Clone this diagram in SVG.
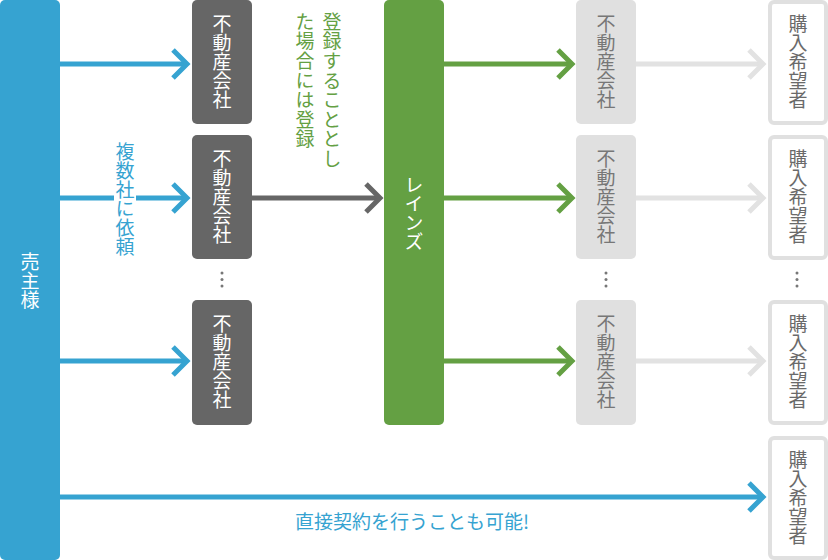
<svg xmlns="http://www.w3.org/2000/svg" width="828" height="560" viewBox="0 0 828 560">
<style>
text{font-family:"Noto Sans CJK JP","Noto Sans",sans-serif;font-size:19px}
.v{writing-mode:vertical-rl;text-anchor:middle;letter-spacing:0px}
.vs{writing-mode:vertical-rl;text-anchor:start;letter-spacing:0.6px}
.ln{fill:none;stroke-width:5}
.blue{stroke:#36a3d1}
.dark{stroke:#666}
.green{stroke:#64a043}
.light{stroke:#e2e2e2}
.dot{fill:#777}
</style>
<defs>
<marker id="mb" markerUnits="userSpaceOnUse" markerWidth="30" markerHeight="40" viewBox="-20 -20 30 40" refX="0" refY="0" orient="auto" overflow="visible"><path d="M-14,-14 L0,0 L-14,14" fill="none" stroke="#36a3d1" stroke-width="5"/></marker>
<marker id="md" markerUnits="userSpaceOnUse" markerWidth="30" markerHeight="40" viewBox="-20 -20 30 40" refX="0" refY="0" orient="auto" overflow="visible"><path d="M-14,-14 L0,0 L-14,14" fill="none" stroke="#666" stroke-width="5"/></marker>
<marker id="mg" markerUnits="userSpaceOnUse" markerWidth="30" markerHeight="40" viewBox="-20 -20 30 40" refX="0" refY="0" orient="auto" overflow="visible"><path d="M-14,-14 L0,0 L-14,14" fill="none" stroke="#64a043" stroke-width="5"/></marker>
<marker id="ml" markerUnits="userSpaceOnUse" markerWidth="30" markerHeight="40" viewBox="-20 -20 30 40" refX="0" refY="0" orient="auto" overflow="visible"><path d="M-14,-14 L0,0 L-14,14" fill="none" stroke="#e2e2e2" stroke-width="5"/></marker>
</defs>
<rect width="828" height="560" fill="#fff"/>

<g id="connectors">
<line class="ln blue" x1="60" y1="64" x2="187" y2="64" marker-end="url(#mb)"/>
<line class="ln blue" x1="60" y1="198" x2="187" y2="198" marker-end="url(#mb)"/>
<line class="ln blue" x1="60" y1="361" x2="187" y2="361" marker-end="url(#mb)"/>
<line class="ln dark" x1="252" y1="198" x2="380" y2="198" marker-end="url(#md)"/>
<line class="ln green" x1="444" y1="64" x2="572" y2="64" marker-end="url(#mg)"/>
<line class="ln green" x1="444" y1="198" x2="572" y2="198" marker-end="url(#mg)"/>
<line class="ln green" x1="444" y1="361" x2="572" y2="361" marker-end="url(#mg)"/>
<line class="ln light" x1="636" y1="64" x2="763" y2="64" marker-end="url(#ml)"/>
<line class="ln light" x1="636" y1="198" x2="763" y2="198" marker-end="url(#ml)"/>
<line class="ln light" x1="636" y1="361" x2="763" y2="361" marker-end="url(#ml)"/>
<line class="ln blue" x1="60" y1="497" x2="763" y2="497" marker-end="url(#mb)"/>
</g>

<g id="label-multi">
<rect x="114" y="137" width="22" height="124" fill="#fff"/>
<text class="v" x="125" y="199" fill="#36a3d1">複数社に依頼</text>
</g>
<g id="label-register">
<text class="vs" x="332" y="12" fill="#64a043">登録することとし</text>
<text class="vs" x="305" y="12" fill="#64a043">た場合には登録</text>
</g>
<g id="label-direct">
<text x="412" y="529" text-anchor="middle" fill="#36a3d1">直接契約を行うことも可能!</text>
</g>

<g id="seller">
<rect x="0" y="0" width="60" height="560" rx="5" fill="#36a3d1"/>
<text class="v" x="30" y="281" fill="#fff">売主様</text>
</g>

<g id="agent1"><rect x="192" y="0" width="60" height="124" rx="5" fill="#666"/><text class="v" x="222" y="62" fill="#fff">不動産会社</text></g>
<g id="agent2"><rect x="192" y="135" width="60" height="124" rx="5" fill="#666"/><text class="v" x="222" y="197" fill="#fff">不動産会社</text></g>
<g id="agent-dots"><circle class="dot" cx="222" cy="273" r="1.5"/><circle class="dot" cx="222" cy="279.5" r="1.5"/><circle class="dot" cx="222" cy="286" r="1.5"/></g>
<g id="agent3"><rect x="192" y="300" width="60" height="125" rx="5" fill="#666"/><text class="v" x="222" y="362" fill="#fff">不動産会社</text></g>

<g id="reins"><rect x="384" y="0" width="60" height="425" rx="5" fill="#64a043"/><text class="v" x="414" y="213" fill="#fff">レインズ</text></g>

<g id="ragent1"><rect x="576" y="0" width="60" height="124" rx="5" fill="#e0e0e0"/><text class="v" x="606" y="62" fill="#777">不動産会社</text></g>
<g id="ragent2"><rect x="576" y="135" width="60" height="124" rx="5" fill="#e0e0e0"/><text class="v" x="606" y="197" fill="#777">不動産会社</text></g>
<g id="ragent-dots"><circle class="dot" cx="606" cy="273" r="1.5"/><circle class="dot" cx="606" cy="279.5" r="1.5"/><circle class="dot" cx="606" cy="286" r="1.5"/></g>
<g id="ragent3"><rect x="576" y="300" width="60" height="125" rx="5" fill="#e0e0e0"/><text class="v" x="606" y="362" fill="#777">不動産会社</text></g>

<g id="buyer1"><rect x="770" y="2" width="56" height="121" rx="4" fill="#fff" stroke="#e0e0e0" stroke-width="4"/><text class="v" x="798" y="62" fill="#6a6a6a">購入希望者</text></g>
<g id="buyer2"><rect x="770" y="137" width="56" height="121" rx="4" fill="#fff" stroke="#e0e0e0" stroke-width="4"/><text class="v" x="798" y="197" fill="#6a6a6a">購入希望者</text></g>
<g id="buyer-dots"><circle class="dot" cx="797" cy="273" r="1.5"/><circle class="dot" cx="797" cy="279.5" r="1.5"/><circle class="dot" cx="797" cy="286" r="1.5"/></g>
<g id="buyer3"><rect x="770" y="302" width="56" height="121" rx="4" fill="#fff" stroke="#e0e0e0" stroke-width="4"/><text class="v" x="798" y="362" fill="#6a6a6a">購入希望者</text></g>
<g id="buyer4"><rect x="770" y="438" width="56" height="120" rx="4" fill="#fff" stroke="#e0e0e0" stroke-width="4"/><text class="v" x="798" y="498" fill="#6a6a6a">購入希望者</text></g>
</svg>
